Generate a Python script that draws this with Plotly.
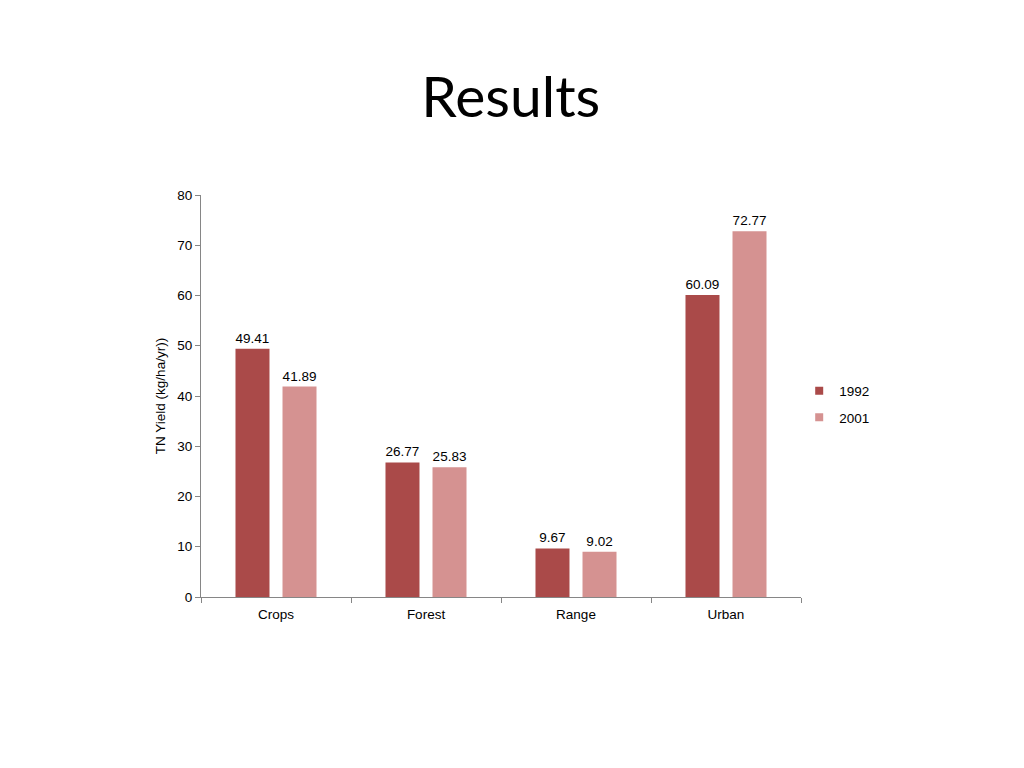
import plotly.graph_objects as go

categories = ["Crops", "Forest", "Range", "Urban"]
y1992 = [49.41, 26.77, 9.67, 60.09]
y2001 = [41.89, 25.83, 9.02, 72.77]
series_names = ["1992", "2001"]
colors = ["#AA4A49", "#D59291"]

fig = go.Figure()
for name, vals, col in zip(series_names, [y1992, y2001], colors):
    fig.add_trace(go.Bar(
        x=categories, y=vals, name=name, marker=dict(color=col, line=dict(width=0)),
        text=[f"{v:.2f}" for v in vals], textposition="outside",
        textfont=dict(family="Liberation Sans, Arial", size=13.5, color="#000000"),
        cliponaxis=False, showlegend=False,
    ))
# legend entries with small square markers
for name, col in zip(series_names, colors):
    fig.add_trace(go.Scatter(
        x=[None], y=[None], mode="markers", name=name, legendgroup=name,
        marker=dict(symbol="square", size=8, color=col), showlegend=True,
    ))

fig.update_layout(
    width=1024, height=768,
    paper_bgcolor="white", plot_bgcolor="white",
    margin=dict(l=193, r=231, t=187, b=179),
    barmode="group", bargap=0.373, bargroupgap=0.277,
    font=dict(family="Liberation Sans, Arial", size=13.5, color="#000000"),
    showlegend=True,
    legend=dict(x=0.997, y=0.479, xanchor="left", yanchor="middle",
                font=dict(size=13.5), itemwidth=30, tracegroupgap=6),
    title=dict(text="Results", x=0.491, xanchor="center", y=0.884, yanchor="middle",
               font=dict(family="Lato, Carlito, Calibri, sans-serif", size=57, color="#000000")),
    uniformtext=dict(minsize=13, mode="show"),
)
fig.update_xaxes(
    showline=True, linecolor="#868686", linewidth=1,
    ticks="outside", tickson="boundaries", ticklen=5, tickcolor="#868686",
    showgrid=False, tickfont=dict(size=13.5), ticklabelstandoff=5,
)
fig.update_yaxes(
    range=[0, 80], dtick=10, showline=True, linecolor="#868686", linewidth=1,
    ticks="outside", ticklen=5, tickcolor="#868686", showgrid=False, zeroline=False,
    tickfont=dict(size=13.5),
    title=dict(text="TN Yield (kg/ha/yr))", font=dict(size=13.5), standoff=8),
)

fig.write_html("out.html")
